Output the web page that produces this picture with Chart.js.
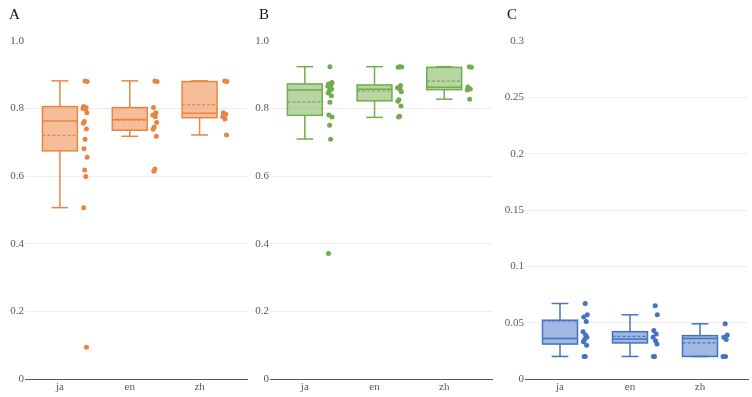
<!DOCTYPE html>
<html><head><meta charset="utf-8">
<script src="https://cdn.jsdelivr.net/npm/chart.js@4"></script>
<style>
html,body{margin:0;padding:0;background:#fff}
body{width:752px;height:397px;overflow:hidden;position:relative;font-family:'Liberation Serif','DejaVu Serif',serif}
.panel{position:absolute;top:0}
.lbl{position:absolute;top:7px;font-size:15px;line-height:1;color:#111}
</style></head><body>
<div class="panel" style="left:0px"><canvas id="cA" width="250" height="397"></canvas></div>
<div class="panel" style="left:250px"><canvas id="cB" width="250" height="397"></canvas></div>
<div class="panel" style="left:500px"><canvas id="cC" width="252" height="397"></canvas></div>
<div class="lbl" style="left:9px">A</div>
<div class="lbl" style="left:259px">B</div>
<div class="lbl" style="left:507px">C</div>
<script>
// ---- data ----
const categories = ['ja', 'en', 'zh'];
const panelLabels = ['A', 'B', 'C'];

// Panel A (orange)
const aPointsJa = [0.882, 0.880, 0.806, 0.803, 0.800, 0.798, 0.788, 0.762, 0.757, 0.740, 0.709, 0.681, 0.656, 0.618, 0.599, 0.507, 0.094];
const aPointsEn = [0.882, 0.880, 0.803, 0.788, 0.781, 0.776, 0.759, 0.745, 0.739, 0.718, 0.621, 0.615];
const aPointsZh = [0.882, 0.880, 0.788, 0.783, 0.776, 0.769, 0.722];
const aLow    = [0.507, 0.718, 0.722];
const aQ1     = [0.675, 0.736, 0.773];
const aMedian = [0.763, 0.768, 0.786];
const aMean   = [0.721, 0.766, 0.811];
const aQ3     = [0.806, 0.803, 0.880];
const aHigh   = [0.882, 0.882, 0.882];

// Panel B (green)
const bPointsJa = [0.924, 0.877, 0.873, 0.870, 0.866, 0.862, 0.857, 0.852, 0.846, 0.838, 0.819, 0.781, 0.775, 0.751, 0.709, 0.371];
const bPointsEn = [0.924, 0.923, 0.922, 0.868, 0.862, 0.857, 0.850, 0.826, 0.822, 0.808, 0.777, 0.775];
const bPointsZh = [0.924, 0.922, 0.864, 0.858, 0.855, 0.828];
const bLow    = [0.710, 0.774, 0.828];
const bQ1     = [0.780, 0.823, 0.856];
const bMedian = [0.855, 0.857, 0.863];
const bMean   = [0.820, 0.852, 0.881];
const bQ3     = [0.873, 0.870, 0.922];
const bHigh   = [0.924, 0.924, 0.924];

// Panel C (blue)
const cPointsJa = [0.067, 0.057, 0.055, 0.051, 0.042, 0.039, 0.037, 0.035, 0.033, 0.030, 0.020, 0.020];
const cPointsEn = [0.065, 0.057, 0.043, 0.040, 0.037, 0.034, 0.031, 0.020, 0.020];
const cPointsZh = [0.049, 0.039, 0.037, 0.035, 0.020, 0.020];
const cLow    = [0.020, 0.020, 0.020];
const cQ1     = [0.031, 0.032, 0.020];
const cMedian = [0.036, 0.0355, 0.036];
const cMean   = [0.0515, 0.0378, 0.032];
const cQ3     = [0.0522, 0.042, 0.0385];
const cHigh   = [0.067, 0.057, 0.049];

const aTicksMax = 1.0, aTicksStep = 0.2;
const cTicksMax = 0.3, cTicksStep = 0.05;

// ---- drawing ----
const FONT = {family: "'Liberation Serif', 'DejaVu Serif', serif", size: 11};
const TICK_COLOR = '#595959';
const jitter = [0, 0.03, -0.02, 0.015, -0.03, 0.005, 0.025, -0.01, -0.025, 0.02, 0.0, -0.015, 0.03, -0.005, 0.01, -0.02, 0.02];

function makeBoxPlugin(st, stroke, fill) {
  return {
    id: 'boxes',
    beforeDatasetsDraw(chart) {
      const {ctx, scales: {x, y}} = chart;
      ctx.save();
      ctx.strokeStyle = stroke;
      ctx.lineWidth = 1.5;
      const line = (x1, y1, x2, y2) => { ctx.beginPath(); ctx.moveTo(x1, y1); ctx.lineTo(x2, y2); ctx.stroke(); };
      for (let i = 0; i < categories.length; i++) {
        const xc = x.getPixelForValue(i);
        const half = x.getPixelForValue(i + 0.25) - xc;
        const cap = x.getPixelForValue(i + 0.12) - xc;
        const yLo = y.getPixelForValue(st.low[i]);
        const yQ1 = y.getPixelForValue(st.q1[i]);
        const yMed = y.getPixelForValue(st.med[i]);
        const yMean = y.getPixelForValue(st.mean[i]);
        const yQ3 = y.getPixelForValue(st.q3[i]);
        const yHi = y.getPixelForValue(st.high[i]);
        line(xc, yQ3, xc, yHi); line(xc - cap, yHi, xc + cap, yHi);
        line(xc, yQ1, xc, yLo); line(xc - cap, yLo, xc + cap, yLo);
        ctx.fillStyle = fill;
        ctx.fillRect(xc - half, yQ3, 2 * half, yQ1 - yQ3);
        ctx.strokeRect(xc - half, yQ3, 2 * half, yQ1 - yQ3);
        line(xc - half, yMed, xc + half, yMed);
        ctx.setLineDash([3, 2]);
        ctx.lineWidth = 1.2;
        line(xc - half, yMean, xc + half, yMean);
        ctx.setLineDash([]);
        ctx.lineWidth = 1.5;
      }
      ctx.restore();
    }
  };
}

function makePanel(id, pts, st, stroke, fill, yMax, yStep, yW, rightPad, fmt) {
  const data = [];
  pts.forEach((arr, i) => arr.forEach((v, j) => data.push({x: i + 0.36 + jitter[j % jitter.length], y: v})));
  new Chart(document.getElementById(id), {
    type: 'scatter',
    data: {datasets: [{data, backgroundColor: stroke, borderWidth: 0, pointRadius: 2.5, pointHoverRadius: 2.5}]},
    plugins: [makeBoxPlugin(st, stroke, fill)],
    options: {
      responsive: false, animation: false, devicePixelRatio: 1, events: [],
      layout: {padding: {left: 0, right: rightPad, top: 41, bottom: 0}},
      plugins: {legend: {display: false}, tooltip: {enabled: false}},
      scales: {
        x: {
          type: 'linear', min: -0.5, max: 2.686,
          afterBuildTicks: (ax) => { ax.ticks = categories.map((c, i) => ({value: i})); },
          afterFit: (ax) => { ax.height = 18; },
          ticks: {callback: (v) => categories[v], font: FONT, color: TICK_COLOR, padding: 2, autoSkip: false, maxRotation: 0},
          grid: {display: true, color: 'rgba(0,0,0,0)', drawTicks: false},
          border: {display: true, color: '#595959', width: 1}
        },
        y: {
          min: 0, max: yMax,
          afterFit: (ax) => { ax.width = yW; },
          ticks: {stepSize: yStep, callback: fmt, font: FONT, color: TICK_COLOR, padding: 1},
          grid: {drawTicks: false, lineWidth: 1, color: (c) => (c.tick && c.tick.value >= yMax - 1e-9) || (c.tick && c.tick.value === 0) ? 'rgba(0,0,0,0)' : '#eeeeee'},
          border: {display: false}
        }
      }
    }
  });
}

const fmt1 = (v) => v === 0 ? '0' : v.toFixed(1);
const fmt2 = (v) => v === 0 ? '0' : String(Number(v.toFixed(2)));

makePanel('cA', [aPointsJa, aPointsEn, aPointsZh],
  {low: aLow, q1: aQ1, med: aMedian, mean: aMean, q3: aQ3, high: aHigh},
  '#EA8444', 'rgba(237,125,49,0.5)', aTicksMax, aTicksStep, 25, 2, fmt1);
makePanel('cB', [bPointsJa, bPointsEn, bPointsZh],
  {low: bLow, q1: bQ1, med: bMedian, mean: bMean, q3: bQ3, high: bHigh},
  '#72AC4D', 'rgba(112,173,71,0.5)', aTicksMax, aTicksStep, 20, 8, fmt1);
makePanel('cC', [cPointsJa, cPointsEn, cPointsZh],
  {low: cLow, q1: cQ1, med: cMedian, mean: cMean, q3: cQ3, high: cHigh},
  '#4472C4', 'rgba(68,114,196,0.5)', cTicksMax, cTicksStep, 25, 4, fmt2);
</script>
</body></html>
